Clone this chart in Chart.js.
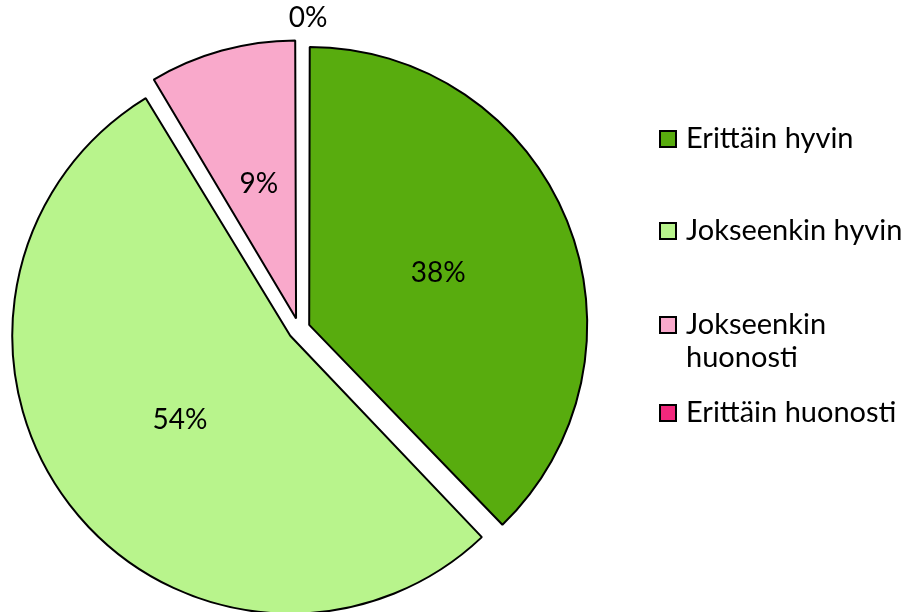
<!DOCTYPE html>
<html>
<head>
<meta charset="utf-8">
<script src="https://cdn.jsdelivr.net/npm/chart.js@4"></script>
<style>
  html, body { margin: 0; padding: 0; background: #fff; }
  #wrap { width: 909px; height: 612px; }
</style>
</head>
<body>
<div id="wrap"><canvas id="piirakka" width="909" height="612"></canvas></div>
<script>
const vastaukset = ["Erittäin hyvin", "Jokseenkin hyvin", "Jokseenkin huonosti", "Erittäin huonosti"];
const osuudet = [37.8, 53.6, 8.6, 0];
const prosenttiTekstit = ["38%", "54%", "9%", "0%"];
const varit = ["#58AC0E", "#B8F48C", "#F9A9CB", "#F2287C"];

const fontti = "Lato";
const sade = 278;
const irrotus = 44; // chart.js siirtää siivua offset/4

// chart.js kasvattaa irrotetun siivun sädettä, tasataan kaikki samaan
const sadePlugin = {
  id: "sade",
  beforeDatasetsDraw(chart) {
    const meta = chart.getDatasetMeta(0);
    meta.data.forEach(function (kaari) {
      const kulma = kaari.endAngle - kaari.startAngle;
      const fix = 1 - Math.sin(Math.min(Math.PI, kulma));
      kaari.outerRadius = sade - (irrotus / 4) * fix;
    });
  },
};

// prosentit siivujen päälle
const prosenttiPlugin = {
  id: "prosentit",
  afterDatasetsDraw(chart) {
    const ctx = chart.ctx;
    const meta = chart.getDatasetMeta(0);
    ctx.save();
    ctx.font = "28px " + fontti;
    ctx.fillStyle = "#000";
    ctx.textAlign = "center";
    ctx.textBaseline = "middle";
    meta.data.forEach(function (kaari, i) {
      const keski = (kaari.startAngle + kaari.endAngle) / 2;
      let etaisyys = sade / 2 + 11;
      let dx = 0;
      if (osuudet[i] === 0) {
        etaisyys = sade + 33;
        dx = 9;
      }
      ctx.fillText(prosenttiTekstit[i], kaari.x + Math.cos(keski) * etaisyys + dx, kaari.y + Math.sin(keski) * etaisyys);
    });
    ctx.restore();
  },
};

// selite oikealle, rivitys kun teksti ei mahdu
const selitePlugin = {
  id: "selite",
  afterDraw(chart) {
    const ctx = chart.ctx;
    const rivit = [139, 231, 325, 413];
    const x0 = 660;
    const tx = 686;
    const maxLeveys = 222;
    ctx.save();
    ctx.font = "29px " + fontti;
    ctx.textBaseline = "middle";
    ctx.textAlign = "left";
    vastaukset.forEach(function (nimi, i) {
      const y = rivit[i];
      ctx.fillStyle = varit[i];
      ctx.fillRect(x0, y - 8, 16, 16);
      ctx.strokeStyle = "#000";
      ctx.lineWidth = 2;
      ctx.strokeRect(x0, y - 8, 16, 16);
      ctx.fillStyle = "#000";
      const sanat = nimi.split(" ");
      let rivi = "";
      let ry = y;
      sanat.forEach(function (s) {
        const koe = rivi ? rivi + " " + s : s;
        if (ctx.measureText(koe).width > maxLeveys && rivi) {
          ctx.fillText(rivi, tx, ry);
          rivi = s;
          ry += 33;
        } else {
          rivi = koe;
        }
      });
      ctx.fillText(rivi, tx, ry);
    });
    ctx.restore();
  },
};

new Chart(document.querySelector("#piirakka").getContext("2d"), {
  type: "pie",
  data: {
    labels: vastaukset,
    datasets: [
      {
        data: osuudet,
        backgroundColor: varit,
        borderColor: "#000",
        borderWidth: 2,
        offset: irrotus,
        hoverOffset: 0,
        radius: sade,
      },
    ],
  },
  options: {
    responsive: false,
    animation: false,
    layout: { padding: { left: 0, top: 46, right: 311, bottom: 0 } },
    plugins: {
      legend: { display: false },
      tooltip: { enabled: false },
    },
  },
  plugins: [sadePlugin, prosenttiPlugin, selitePlugin],
});
</script>
</body>
</html>
